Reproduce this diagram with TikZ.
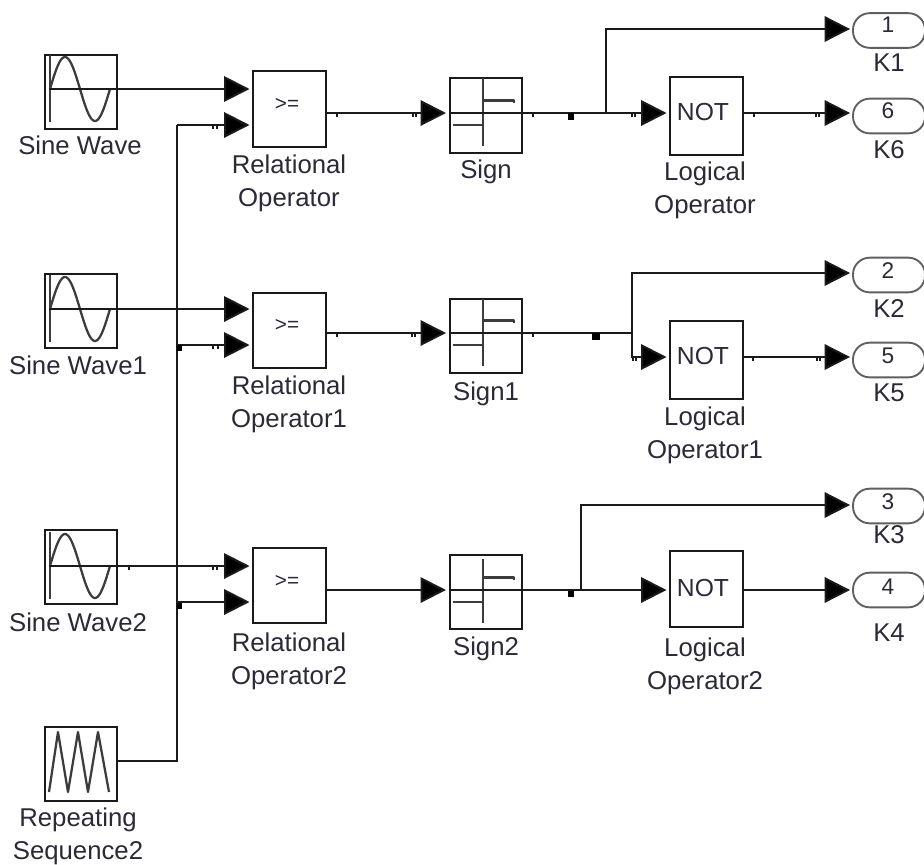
\documentclass[tikz,border=0pt]{standalone}
\usepackage{fontspec}
\setmainfont{Liberation Sans}
\usetikzlibrary{arrows.meta}
\definecolor{ink}{HTML}{1A1A1A}
\definecolor{txt}{HTML}{2A2A38}
\tikzset{
  x=0.75pt,y=-0.75pt,
  blk/.style={draw=ink,line width=1.5pt,inner sep=0pt,minimum width=54.5pt},
  pill/.style={draw=ink!70,line width=1.4pt,inner sep=0pt,minimum width=54pt,minimum height=26pt,rounded corners=12.5pt},
  lab/.style={inner sep=0pt,align=center,text=txt,font=\fontsize{19.3}{24.75}\selectfont},
  num/.style={inner sep=0pt,text=txt,font=\fontsize{17}{18}\selectfont},
  optext/.style={inner sep=0pt,text=txt,font=\fontsize{15.5}{18}\selectfont},
  nottext/.style={inner sep=0pt,text=txt,font=\fontsize{18.5}{20}\selectfont},
  wire/.style={draw=ink,line width=1.5pt},
  arr/.style={wire,-{Triangle[length=19pt,width=19pt,fill=black]},shorten >=2pt},
  arrk/.style={arr,shorten >=1.5pt},
  icon/.style={draw=ink!85,line width=1.7pt,line join=round},
  sqdot/.style={fill=black,draw=none,inner sep=0pt},
  tickmark/.style={draw=ink,line width=0.8pt}
}
\begin{document}
\begin{tikzpicture}
\useasboundingbox (0,0) rectangle (924,864);
\fill[white] (0,0) rectangle (924,864);

% sources
\node[blk,minimum height=55.5pt] (sw0) at (81,92) {};
\node[blk,minimum height=55.5pt] (sw1) at (81,310.5) {};
\node[blk,minimum height=55.5pt] (sw2) at (81,567) {};
\node[blk,minimum height=55.5pt] (rep) at (81,764) {};
\node[lab] (lsw0) at (80,145) {Sine Wave};
\node[lab] (lsw1) at (78,365) {Sine Wave1};
\node[lab] (lsw2) at (78,622) {Sine Wave2};
\node[lab] (lrep) at (78,836.5) {Repeating\\Sequence2};

% icons
\foreach \o/\c in {0/89,1/309,2/566}{
  \draw[icon] (50,\c-34) -- (50,\c+33);
  \draw[icon,domain=0:60,samples=50,smooth] plot ({50+\x},{\c-32*sin(6*\x)});
}
\draw[icon] (49,792) -- (58,732) -- (68,792) -- (78,732) -- (88,792) -- (98,732) -- (109,792);

% relational operators
\node[blk,minimum height=57pt] (ro0) at (289.5,108.5) {};
\node[blk,minimum height=56pt] (ro1) at (289.5,330.5) {};
\node[blk,minimum height=56pt] (ro2) at (289.5,585.5) {};
\node[optext] (tro0) at (287,104) {>=};
\node[optext] (tro1) at (287,325) {>=};
\node[optext] (tro2) at (287,581) {>=};
\node[lab] (lro0) at (289,183) {Relational\\Operator};
\node[lab] (lro1) at (289,404) {Relational\\Operator1};
\node[lab] (lro2) at (289,661) {Relational\\Operator2};

% signs
\node[blk,minimum height=56pt] (sg0) at (486,115.5) {};
\node[blk,minimum height=56pt] (sg1) at (486,336) {};
\node[blk,minimum height=56pt] (sg2) at (486,592) {};
\node[lab] (lsg0) at (486,172) {Sign};
\node[lab] (lsg1) at (486,394) {Sign1};
\node[lab] (lsg2) at (486,649) {Sign2};
\foreach \c/\t in {113/78,333/299,590/559}{
  \draw[icon] (483,\t) -- (483,\c+33);
  \draw[icon] (483,\c-12.5) -- (514,\c-12.5) -- (514,\c-10);
  \draw[icon] (453,\c+12) -- (483,\c+12);
}

% logical operators
\node[blk,minimum height=58pt] (lo0) at (706.5,116) {};
\node[blk,minimum height=58pt] (lo1) at (706.5,360) {};
\node[blk,minimum height=57pt] (lo2) at (706.5,589) {};
\node[nottext] (tlo0) at (703,112) {NOT};
\node[nottext] (tlo1) at (703,356) {NOT};
\node[nottext] (tlo2) at (703,588) {NOT};
\node[lab] (llo0) at (705,190.5) {Logical\\Operator};
\node[lab] (llo1) at (705,435.5) {Logical\\Operator1};
\node[lab] (llo2) at (705,666.5) {Logical\\Operator2};

% outports
\node[pill] (k1) at (889,30.5) {};
\node[pill] (k6) at (889,116) {};
\node[pill] (k2) at (889,275) {};
\node[pill] (k5) at (889,360) {};
\node[pill] (k3) at (889,506) {};
\node[pill] (k4) at (889,590) {};
\node[num] (n1) at (888,25) {1};
\node[num] (n6) at (888,111) {6};
\node[num] (n2) at (888,271) {2};
\node[num] (n5) at (888,356) {5};
\node[num] (n3) at (888,502) {3};
\node[num] (n4) at (888,587) {4};
\node[lab] (lk1) at (889,63) {K1};
\node[lab] (lk6) at (889,150) {K6};
\node[lab] (lk2) at (889,309) {K2};
\node[lab] (lk5) at (889,393) {K5};
\node[lab] (lk3) at (889,535) {K3};
\node[lab] (lk4) at (889,633) {K4};

% ports and branch points
\coordinate (a0) at (49,89);
\coordinate (a1) at (49,309);
\coordinate (a2) at (49,566);
\coordinate (i0a) at (ro0.west |- 0,89);
\coordinate (i1a) at (ro1.west |- 0,309);
\coordinate (i2a) at (ro2.west |- 0,566);
\coordinate (i0b) at (ro0.west |- 0,125);
\coordinate (i1b) at (ro1.west |- 0,345);
\coordinate (i2b) at (ro2.west |- 0,602);
\coordinate (bus0) at (177,125);
\coordinate (bus1) at (177,345);
\coordinate (bus2) at (177,602);
\coordinate (busend) at (177,761);
\coordinate (repo) at (rep.east |- 0,761);

\coordinate (r0) at (ro0.east |- 0,113);
\coordinate (r1) at (ro1.east |- 0,333);
\coordinate (r2) at (ro2.east |- 0,590);
\coordinate (s0i) at (sg0.west |- 0,113);
\coordinate (s1i) at (sg1.west |- 0,333);
\coordinate (s2i) at (sg2.west |- 0,590);

% wires
\draw[arr] (a0) -- (i0a);
\draw[arr] (a1) -- (i1a);
\draw[arr] (a2) -- (i2a);
\draw[wire,line join=miter] (repo) -- (busend) -- (bus0);
\draw[arr] (bus0) -- (i0b);
\draw[arr] (bus1) -- (i1b);
\draw[arr] (bus2) -- (i2b);
\draw[arr] (r0) -- (s0i);
\draw[arr] (r1) -- (s1i);
\draw[arr] (r2) -- (s2i);

% sign outputs
\coordinate (b0) at (606,113);
\coordinate (b1) at (631.5,333);
\coordinate (b2) at (581,590);
\draw[wire] (s0i) -- (b0);
\draw[wire] (s1i) -- (b1);
\draw[wire] (s2i) -- (b2);
\draw[arrk] (b0) -- (606,29) -- (k1.west |- 0,29);
\draw[arrk] (b1) -- (631.5,273) -- (k2.west |- 0,273);
\draw[arrk] (b2) -- (581,505) -- (k3.west |- 0,505);
\draw[arr] (b0) -- (lo0.west |- 0,113);
\draw[arr] (b1) -- (631.5,357) -- (lo1.west |- 0,357);
\draw[arr] (b2) -- (lo2.west |- 0,590);
\draw[arrk] (lo0.east |- 0,113) -- (k6.west |- 0,113);
\draw[arrk] (lo1.east |- 0,357) -- (k5.west |- 0,357);
\draw[arrk] (lo2.east |- 0,590) -- (k4.west |- 0,590);

% small squares on the lines
\node[sqdot,minimum width=3.8pt,minimum height=5pt] (d1) at (179.5,348) {};
\node[sqdot,minimum width=3.8pt,minimum height=5pt] (d2) at (179.5,606) {};
\node[sqdot,minimum width=4.5pt,minimum height=5pt] (d3) at (571,116.5) {};
\node[sqdot,minimum width=6pt,minimum height=5pt] (d4) at (596,336.5) {};
\node[sqdot,minimum width=4.5pt,minimum height=4.5pt] (d5) at (571,594) {};

% little ticks next to the wires
\foreach \tx/\ty in {213/126,217/126,533/114,632/114,635/114,754/114,816/114,819/114,
  337/114,413/114,416/114,
  337/334,412/334,415/334,533/334,633/358,636/358,753/358,817/358,820/358,
  213/346,218/346,129/567,213/567,217/567}{
  \draw[tickmark] (\tx,\ty) -- (\tx,\ty+3);
}
\end{tikzpicture}
\end{document}
